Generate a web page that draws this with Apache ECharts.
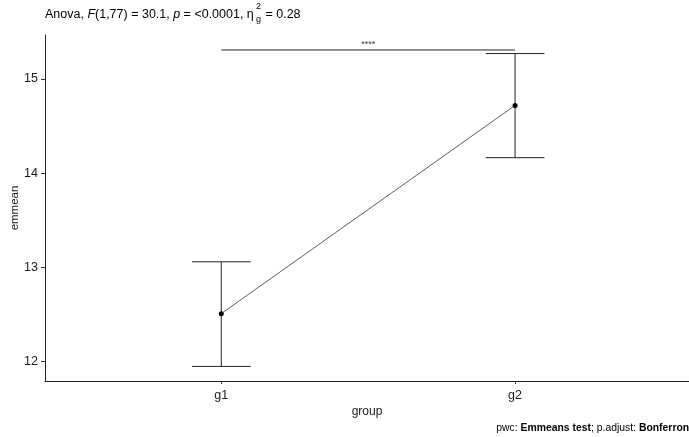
<!DOCTYPE html>
<html>
<head>
<meta charset="utf-8">
<script src="https://cdn.jsdelivr.net/npm/echarts@6/dist/echarts.min.js"></script>
<style>html,body{margin:0;padding:0;background:#fff;}#chart{width:689px;height:437px;}</style>
</head>
<body>
<div id="chart"></div>
<script>
const categories = ['g1', 'g2'];
const emmean = [12.51, 14.72];
const ciLower = [11.95, 14.165];
const ciUpper = [13.06, 15.27];
const yTicks = [12, 13, 14, 15];
const bracketY = 15.308;
const bracketLabel = '****';

const FONT = 'Liberation Sans, Arial, sans-serif';
const chart = echarts.init(document.getElementById('chart'), null, {renderer: 'canvas'});

const meanData = categories.map((c, i) => [i + 1, emmean[i]]);
const errData = categories.map((c, i) => [i + 1, ciLower[i], ciUpper[i]]);

const option = {
  animation: false,
  backgroundColor: '#fff',
  grid: {left: 45, right: 0, top: 35, bottom: 56, containLabel: false, outerBoundsMode: 'none'},
  xAxis: {
    type: 'value', min: 0.4, max: 2.592,
    splitLine: {show: false},
    axisLine: {show: true, lineStyle: {color: '#222', width: 1}},
    axisTick: {show: true, length: 3, lineStyle: {color: '#333'}, customValues: [1, 2]},
    axisLabel: {customValues: [1, 2], formatter: v => categories[Math.round(v) - 1] || '',
      color: '#1a1a1a', fontSize: 12.5, fontFamily: FONT, margin: 8},
    name: 'group', nameLocation: 'middle', nameGap: 25, nameMoveOverlap: false,
    nameTextStyle: {color: '#1a1a1a', fontSize: 12, fontFamily: FONT}
  },
  yAxis: {
    type: 'value', min: 11.795, max: 15.467,
    splitLine: {show: false},
    axisLine: {show: true, lineStyle: {color: '#222', width: 1}},
    axisTick: {show: true, length: 4, lineStyle: {color: '#333'}, customValues: yTicks},
    axisLabel: {customValues: yTicks, color: '#1a1a1a', fontSize: 12.5, fontFamily: FONT, margin: 7},
    name: 'emmean', nameLocation: 'middle', nameGap: 24, nameRotate: 90, nameMoveOverlap: false,
    nameTextStyle: {color: '#1a1a1a', fontSize: 11.5, fontFamily: FONT}
  },
  series: [
    {
      type: 'custom',
      data: errData,
      renderItem: function (params, api) {
        const x = api.value(0);
        const lo = api.coord([x, api.value(1)]);
        const hi = api.coord([x, api.value(2)]);
        const half = api.size([0.1, 0])[0];
        const st = {stroke: '#222', lineWidth: 1};
        return {type: 'group', children: [
          {type: 'line', shape: {x1: lo[0], y1: lo[1], x2: hi[0], y2: hi[1]}, style: st},
          {type: 'line', shape: {x1: lo[0] - half, y1: lo[1], x2: lo[0] + half, y2: lo[1]}, style: st},
          {type: 'line', shape: {x1: hi[0] - half, y1: hi[1], x2: hi[0] + half, y2: hi[1]}, style: st}
        ]};
      },
      z: 2
    },
    {
      type: 'line',
      data: meanData,
      symbol: 'circle', symbolSize: 5,
      itemStyle: {color: '#000'},
      lineStyle: {color: '#333', width: 0.8},
      z: 3
    },
    {
      type: 'custom',
      data: [[1, 2, bracketY]],
      renderItem: function (params, api) {
        const a = api.coord([api.value(0), api.value(2)]);
        const b = api.coord([api.value(1), api.value(2)]);
        return {type: 'group', children: [
          {type: 'line', shape: {x1: a[0], y1: a[1], x2: b[0], y2: b[1]}, style: {stroke: '#222', lineWidth: 1}},
          {type: 'text', x: (a[0] + b[0]) / 2, y: a[1] - 1,
            style: {text: bracketLabel, fill: '#333', fontSize: 9, fontFamily: FONT, align: 'center', verticalAlign: 'bottom'}}
        ]};
      },
      z: 4
    }
  ],
  graphic: [
    {type: 'text', left: 45, top: 8, style: {
      rich: {n: {fontSize: 12.5, fontFamily: FONT, fill: '#000'}, i: {fontSize: 12.5, fontFamily: FONT, fontStyle: 'italic', fill: '#000'}},
      text: '{n|Anova, }{i|F}{n|(1,77) = 30.1, }{i|p}{n| = <0.0001, η}'
    }},
    {type: 'text', left: 256, top: 2, style: {text: '2', fontSize: 9, fontFamily: FONT, fill: '#000'}},
    {type: 'text', left: 256, top: 15, style: {text: 'g', fontSize: 9, fontFamily: FONT, fill: '#000'}},
    {type: 'text', left: 262, top: 8, style: {text: ' = 0.28', fontSize: 12.5, fontFamily: FONT, fill: '#000'}},
    {type: 'text', right: -3, top: 423, style: {
      rich: {n: {fontSize: 10.4, fontFamily: FONT, fill: '#000'}, b: {fontSize: 10.4, fontFamily: FONT, fontWeight: 'bold', fill: '#000'}},
      text: '{n|pwc: }{b|Emmeans test}{n|; p.adjust: }{b|Bonferroni}'
    }}
  ]
};
chart.setOption(option);
</script>
</body>
</html>
